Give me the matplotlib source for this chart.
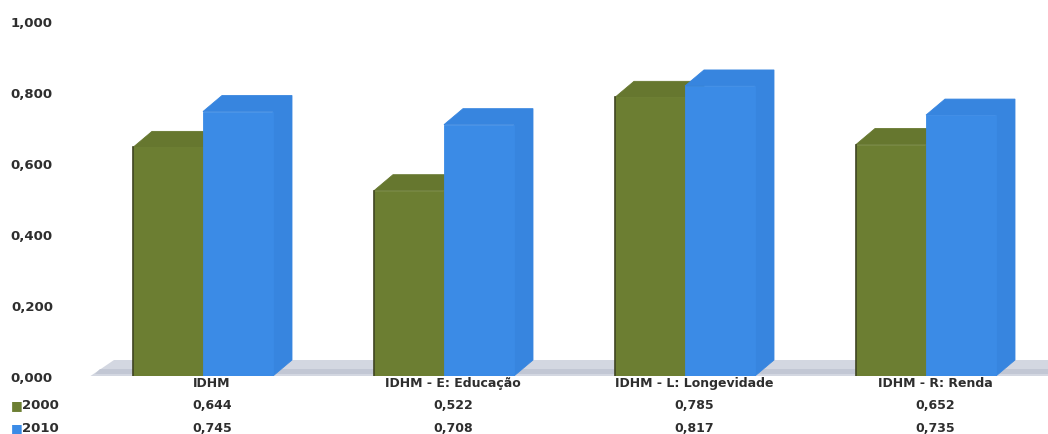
import matplotlib
matplotlib.use("Agg")
import matplotlib.pyplot as plt
from matplotlib.patches import Polygon
from matplotlib.transforms import blended_transform_factory

# IDHM e componentes, 2000 x 2010
categorias = ["IDHM", "IDHM - E: Educação", "IDHM - L: Longevidade", "IDHM - R: Renda"]
anos = ["2000", "2010"]
idhm_2000 = [0.644, 0.522, 0.785, 0.652]
idhm_2010 = [0.745, 0.708, 0.817, 0.735]
yticks = [0.0, 0.2, 0.4, 0.6, 0.8, 1.0]

cor_2000 = "#6c7e32"
cor_2000_lado = "#66772f"
cor_2010 = "#3b8be6"
cor_2010_lado = "#3785df"
cor_texto = "#2e2e2e"


def fmt(v):
    return "{:.3f}".format(v).replace(".", ",")


W, H = 1048, 435
fig = plt.figure(figsize=(W / 100, H / 100), dpi=100)
ax = fig.add_axes([89 / W, 58 / H, 959 / W, 366 / H])

px = 241.0                     # pixels por categoria
largura = 70 / px              # largura da face frontal
dx, dy = 19 / px, 16 / 355     # profundidade do efeito 3D
ax.set_xlim(-123 / px, 836 / px)
ax.set_ylim(0, 366 / 355)

# piso
xa, xb = ax.get_xlim()
ax.add_patch(Polygon([(xa, -0.004), (xb, -0.004), (xb, dy), (xa + dx * 1.3, dy)],
                     closed=True, facecolor="#d3d7e1", edgecolor="none", zorder=1))
ax.add_patch(Polygon([(xa + dx * 0.6, dy * 0.45), (xb, dy * 0.45), (xb, dy * 0.15), (xa + dx * 0.3, dy * 0.15)],
                     closed=True, facecolor="#c2c7d4", edgecolor="none", zorder=1))


def barra3d(x0, v, cor_lado, z):
    x1 = x0 + largura
    lado = Polygon([(x0, v), (x0 + dx, v + dy), (x1 + dx, v + dy),
                    (x1 + dx, dy), (x1, 0), (x1, v)],
                   closed=True, facecolor=cor_lado, edgecolor=cor_lado, lw=0.6, zorder=z)
    ax.add_patch(lado)


for i in range(len(categorias)):
    x0 = i - 79 / px
    barra3d(x0, idhm_2000[i], cor_2000_lado, 2)
    ax.bar(x0, idhm_2000[i], width=largura, align="edge", color=cor_2000,
           edgecolor=cor_2000, lw=0.6, zorder=3)
    ax.plot([x0, x0], [0, idhm_2000[i]], color="#3e4420", lw=1.2, zorder=3)
    x0 = x0 + largura
    barra3d(x0, idhm_2010[i], cor_2010_lado, 4)
    ax.bar(x0, idhm_2010[i], width=largura, align="edge", color=cor_2010,
           edgecolor=cor_2010, lw=0.6, zorder=5)

ax.set_yticks(yticks)
ax.set_yticklabels([fmt(v) for v in yticks])
ax.tick_params(axis="y", length=0, pad=26, labelsize=9.5, labelcolor=cor_texto)
for t in ax.get_yticklabels():
    t.set_fontweight("bold")
ax.set_xticks([])
for s in ax.spines.values():
    s.set_visible(False)

# tabela de dados abaixo do grafico
tr = blended_transform_factory(ax.transData, fig.transFigure)
linhas_y = [1 - 384 / H, 1 - 406 / H, 1 - 429 / H]
for i, cat in enumerate(categorias):
    ax.text(i, linhas_y[0], cat, transform=tr, ha="center", va="center",
            fontsize=9, fontweight="bold", color=cor_texto, clip_on=False)
    ax.text(i, linhas_y[1], fmt(idhm_2000[i]), transform=tr, ha="center", va="center",
            fontsize=9, fontweight="bold", color=cor_texto, clip_on=False)
    ax.text(i, linhas_y[2], fmt(idhm_2010[i]), transform=tr, ha="center", va="center",
            fontsize=9, fontweight="bold", color=cor_texto, clip_on=False)

for ano, cor, yy in zip(anos, [cor_2000, cor_2010], linhas_y[1:]):
    fig.text(11 / W, yy, "■", color=cor, ha="left", va="center", fontsize=9)
    fig.text(22 / W, yy, ano, color=cor_texto, ha="left", va="center",
             fontsize=9.5, fontweight="bold")

fig.savefig("out.png", dpi=100, facecolor="white")
